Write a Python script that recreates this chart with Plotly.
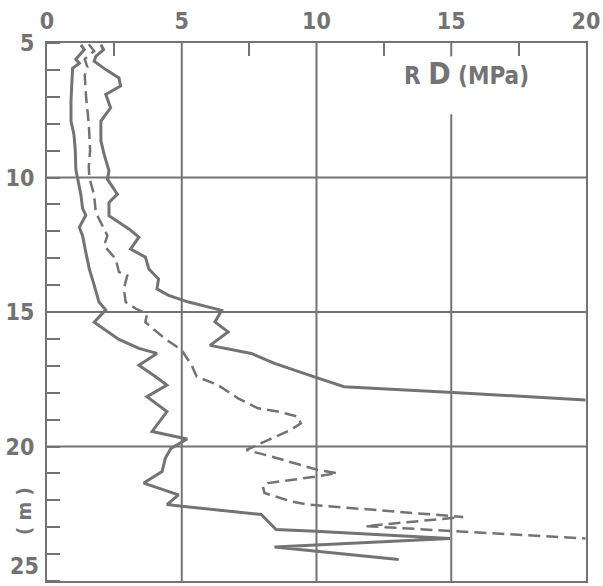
import plotly.graph_objects as go

# ---- data ----
# left solid curve (lower bound)
min_depth = [5.07, 5.25, 5.6, 5.75, 5.94, 7.16, 7.9, 8.4, 9.0, 9.7, 10.0, 10.66, 11.15, 11.4, 11.85, 12.16,
             12.78, 13.4, 14.0, 14.63, 14.92, 15.38, 16.02, 16.35, 16.54, 16.98, 17.4, 17.72, 18.15, 18.7,
             19.44, 19.72, 20.07, 20.44, 20.93, 21.36, 21.8, 22.16, 22.22, 22.53, 23.09, 23.15, 23.42,
             23.74, 24.2]
min_rd = [1.26, 1.38, 1.07, 1.2, 0.95, 0.89, 0.89, 1.0, 1.05, 1.07, 1.13, 1.26, 1.32, 1.44, 1.2, 1.32,
          1.44, 1.57, 1.75, 1.93, 2.18, 1.75, 2.67, 3.41, 4.08, 3.41, 4.02, 4.45, 3.71, 4.45,
          3.9, 5.2, 4.6, 4.39, 4.27, 3.59, 4.88, 4.45, 5.0, 7.95, 8.5, 9.97, 14.95,
          8.44, 13.05]

# dashed curve (mean)
mean_depth = [5.05, 5.3, 5.6, 5.9, 6.2, 7.0, 8.0, 9.0, 9.6, 10.0, 10.66, 11.3, 11.8, 12.16, 12.53, 13.03,
              13.52, 13.64, 14.14, 14.63, 14.88, 15.06, 15.38, 16.0, 16.42, 16.98, 17.4, 17.72, 18.21,
              18.58, 18.7, 18.89, 19.14, 19.38, 19.76, 20.13, 20.37, 20.87, 20.99, 21.11, 21.36, 21.48,
              21.73, 22.04, 22.16, 22.58, 22.62, 22.96, 23.42]
mean_rd = [1.55, 1.75, 1.4, 1.5, 1.4, 1.45, 1.55, 1.6, 1.55, 1.57, 1.75, 1.81, 2.06, 2.24, 2.12, 2.55,
           2.67, 2.98, 2.85, 2.92, 3.3, 3.71, 3.65, 4.39, 5.0, 5.37, 5.55, 6.35, 7.09,
           7.83, 8.56, 9.3, 9.42, 9.05, 8.2, 7.4, 8.32, 10.04, 10.77, 10.04, 8.2, 8.01,
           8.07, 9.05, 9.67, 14.94, 15.44, 11.82, 19.98]

# right solid curve (upper bound)
max_depth = [5.06, 5.25, 5.5, 5.68, 5.99, 6.3, 6.6, 6.91, 7.41, 7.9, 8.64, 9.14, 9.75, 10.06, 10.62, 10.93,
             11.42, 11.91, 12.22, 12.66, 12.96, 13.4, 13.77, 14.14, 14.38, 14.63, 14.94, 15.37, 15.74,
             16.24, 16.54, 16.91, 17.41, 17.78, 17.99, 18.27]
max_rd = [2.0, 2.1, 1.81, 1.75, 2.18, 2.67, 2.73, 2.18, 2.36, 2.0, 2.0, 2.12, 2.3, 2.24, 2.61, 2.3,
          2.3, 3.04, 3.41, 3.1, 3.65, 3.78, 4.14, 4.08, 4.51, 5.25, 6.48, 6.23, 6.72,
          6.05, 7.58, 8.44, 9.92, 11.02, 15.07, 19.98]

x_ticks = [0, 5, 10, 15, 20]
y_ticks = [5, 10, 15, 20]
y_last = 25
x_minor = [2.5, 7.5, 12.5, 17.5]

GRAY = "#737373"
FONT = "Liberation Sans Narrow, DejaVu Sans Condensed, Arial Narrow, sans-serif"
TICKFONT = dict(family=FONT, size=23, color=GRAY, weight="bold")

fig = go.Figure()
fig.add_trace(go.Scatter(x=min_rd, y=min_depth, mode="lines",
                         line=dict(color=GRAY, width=3), showlegend=False))
fig.add_trace(go.Scatter(x=mean_rd, y=mean_depth, mode="lines",
                         line=dict(color=GRAY, width=2.5, dash="12px,6px"), showlegend=False))
fig.add_trace(go.Scatter(x=max_rd, y=max_depth, mode="lines",
                         line=dict(color=GRAY, width=3), showlegend=False))

# vertical grid lines (the one at 15 is interrupted by the axis title)
for xv in [5, 10]:
    fig.add_shape(type="line", x0=xv, x1=xv, y0=5, y1=25, xref="x", yref="y",
                  line=dict(color=GRAY, width=2), layer="below")
fig.add_shape(type="line", x0=15, x1=15, y0=7.65, y1=25, xref="x", yref="y",
              line=dict(color=GRAY, width=2), layer="below")
fig.add_shape(type="line", x0=15, x1=15, y0=5, y1=5.5, xref="x", yref="y",
              line=dict(color=GRAY, width=2), layer="below")
# horizontal grid lines
for yv in [10, 15, 20]:
    fig.add_shape(type="line", x0=-0.2, x1=20, y0=yv, y1=yv, xref="x", yref="y",
                  line=dict(color=GRAY, width=2), layer="below")

fig.update_xaxes(range=[0, 20], side="top", tickvals=x_ticks, ticktext=[str(v) for v in x_ticks],
                 showgrid=False, zeroline=False, showline=True, mirror=True,
                 linecolor=GRAY, linewidth=2, ticks="", ticklabelstandoff=3,
                 ticklabeloverflow="allow", tickfont=TICKFONT,
                 minor=dict(tickvals=x_minor, ticks="inside", ticklen=13, tickwidth=2,
                            tickcolor=GRAY, showgrid=False))
fig.update_yaxes(range=[25, 5], tickvals=y_ticks, ticktext=[str(v) for v in y_ticks],
                 showgrid=False, zeroline=False,
                 showline=True, mirror=True, linecolor=GRAY, linewidth=2, ticks="",
                 ticklabelstandoff=6, ticklabeloverflow="allow", tickfont=TICKFONT,
                 minor=dict(dtick=1, ticks="inside", ticklen=13, tickwidth=2,
                            tickcolor=GRAY, showgrid=False))

fig.add_annotation(text=str(y_last), xref="paper", yref="y", x=0, y=y_last, xanchor="right",
                   yanchor="bottom", xshift=-6, yshift=0, showarrow=False, font=TICKFONT)
fig.add_annotation(text="R <span style='font-size:30px'>D</span> (MPa)", xref="x", yref="y",
                   x=15.55, y=6.15, showarrow=False,
                   font=dict(family=FONT, size=24, color=GRAY, weight="bold"))
fig.add_annotation(text="( m )", xref="paper", yref="y", x=-0.043, y=22.4, showarrow=False,
                   textangle=-90, xanchor="center",
                   font=dict(family=FONT, size=20, color=GRAY, weight="bold"))

fig.update_layout(width=603, height=586, margin=dict(l=47, r=12, t=43, b=3),
                  plot_bgcolor="white", paper_bgcolor="white")

fig.write_html("out.html")
